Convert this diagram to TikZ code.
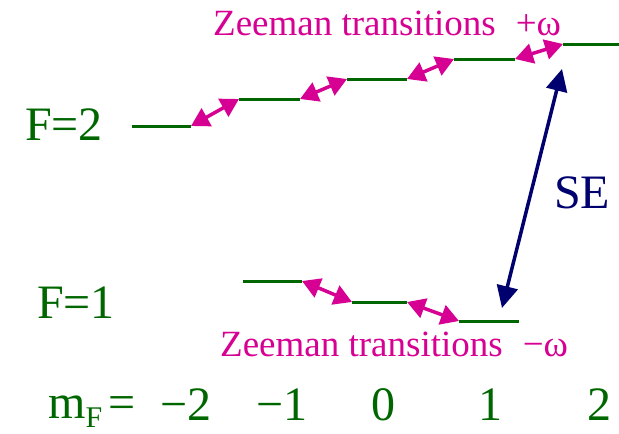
\documentclass[tikz,border=0pt]{standalone}
\usepackage{fontspec}
\setmainfont{Liberation Serif}
\usepackage{xcolor}
\usetikzlibrary{arrows.meta}
\definecolor{lvgreen}{RGB}{0,102,0}
\definecolor{ztmag}{RGB}{214,0,147}
\definecolor{senavy}{RGB}{0,0,110}
\tikzset{
  lvl/.style={lvgreen, line width=3pt},
  zt/.style={{Triangle[length=18pt,width=20pt]}-{Triangle[length=18pt,width=20pt]}, ztmag, line width=3.5pt},
  big/.style={inner sep=0pt, anchor=base west, font=\fontsize{48}{48}\selectfont},
  ztlabel/.style={inner sep=0pt, anchor=base west, text=ztmag, font=\fontsize{37}{37}\selectfont}
}

\begin{document}
\begin{tikzpicture}[x=1pt,y=-1pt]
  \useasboundingbox (0,0) rectangle (619,434);
  % F=2 sublevels
  \coordinate (u0a) at (132,126); \coordinate (u0b) at (191,126);
  \coordinate (u1a) at (239,99);  \coordinate (u1b) at (300,99);
  \coordinate (u2a) at (347,79);  \coordinate (u2b) at (407,79);
  \coordinate (u3a) at (454,59);  \coordinate (u3b) at (515,59);
  \coordinate (u4a) at (563,44);  \coordinate (u4b) at (619,44);
  % F=1 sublevels
  \coordinate (l0a) at (243,281); \coordinate (l0b) at (302,281);
  \coordinate (l1a) at (352,302); \coordinate (l1b) at (407,302);
  \coordinate (l2a) at (459,321); \coordinate (l2b) at (519,321);
  % ends of the SE arrow
  \coordinate (se0) at (502,308); \coordinate (se1) at (562,69);

  \draw[lvl] (u0a) -- (u0b);
  \draw[lvl] (u1a) -- (u1b);
  \draw[lvl] (u2a) -- (u2b);
  \draw[lvl] (u3a) -- (u3b);
  \draw[lvl] (u4a) -- (u4b);
  \draw[lvl] (l0a) -- (l0b);
  \draw[lvl] (l1a) -- (l1b);
  \draw[lvl] (l2a) -- (l2b);

  \draw[zt] (u0b) -- (u1a);
  \draw[zt] (u1b) -- (u2a);
  \draw[zt] (u2b) -- (u3a);
  \draw[zt] (u3b) -- (u4a);
  \draw[zt] (l0b) -- (l1a);
  \draw[zt] (l1b) -- (l2a);

  \draw[{Triangle[length=22pt,width=21pt]}-{Triangle[length=22pt,width=21pt]}, senavy, line width=3.5pt] (se0) -- (se1);

  \node[big, text=lvgreen] (f2) at (25,140) {F=2};
  \node[big, text=lvgreen] (f1) at (37,318) {F=1};
  \node[big, text=senavy] (se) at (554,208) {SE};
  \node[ztlabel] (ztup) at (213,35) {Zeeman transitions\hspace{20pt}+ω};
  \node[ztlabel] (ztdn) at (220,356) {Zeeman transitions\hspace{20pt}−ω};

  \node[big, text=lvgreen] (mf) at (48,418) {m\raisebox{-9pt}{\fontsize{30}{30}\selectfont F}\hspace{6pt}=};
  \node[big, text=lvgreen, anchor=base] (m0) at (186,420) {−2};
  \node[big, text=lvgreen, anchor=base] (m1) at (282,420) {−1};
  \node[big, text=lvgreen, anchor=base] (m2) at (383,420) {0};
  \node[big, text=lvgreen, anchor=base] (m3) at (490,420) {1};
  \node[big, text=lvgreen, anchor=base] (m4) at (599,420) {2};
\end{tikzpicture}
\end{document}
